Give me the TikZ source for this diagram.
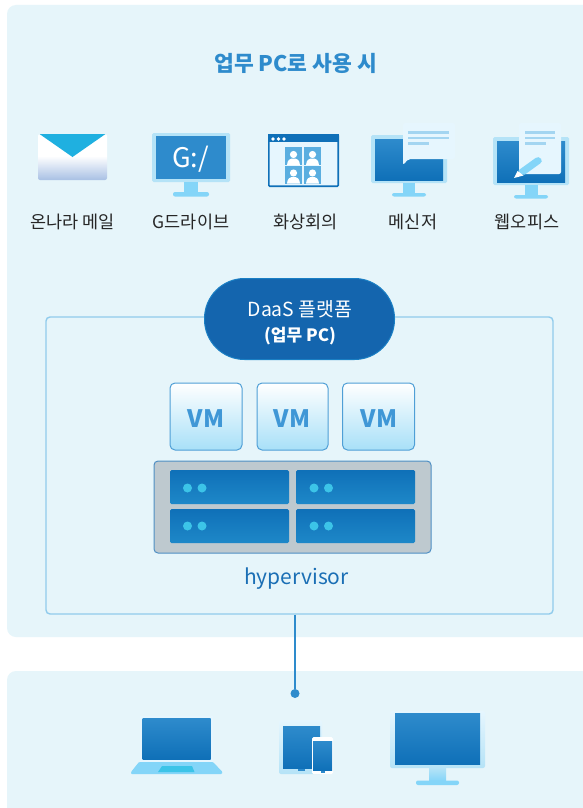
\documentclass[tikz,border=0pt]{standalone}
\usepackage{fontspec}
\setmainfont{Noto Sans CJK KR}
\definecolor{panel}{HTML}{E6F5FA}
\definecolor{lightmon}{HTML}{B5E3F7}
\definecolor{stand}{HTML}{84D5F8}
\definecolor{midblue}{HTML}{2E8BCC}
\definecolor{deepblue}{HTML}{0F70B8}
\definecolor{noteblue}{HTML}{E6F6FE}
\definecolor{noteline}{HTML}{A3D5F1}
\definecolor{ledblue}{HTML}{3CC4E8}
\definecolor{vmlow}{HTML}{A8E0F8}
\definecolor{vmedge}{HTML}{4F9FD6}
\definecolor{vmtext}{HTML}{3F97D6}
\definecolor{slotlow}{HTML}{1E88C8}
\definecolor{picblue}{HTML}{5AAEE0}
\definecolor{mailLow}{HTML}{A8C0E4}
\definecolor{mailTop}{HTML}{1FB0E0}
\definecolor{frameblue}{HTML}{90CBEC}
\definecolor{pillEdge}{HTML}{1A7FC4}
\definecolor{pillFill}{HTML}{1465AE}
\definecolor{hyEdge}{HTML}{4F8FC4}
\definecolor{hyFill}{HTML}{BEC9CF}
\definecolor{hyText}{HTML}{1B6FB5}
\tikzset{
  panelbox/.style={fill=panel,draw=none,rounded corners=9pt},
  screen/.style={top color=midblue,bottom color=deepblue,draw=none},
  bezel/.style={fill=lightmon,draw=none,rounded corners=1.5pt},
  standc/.style={fill=stand,draw=none},
  noteln/.style={fill=noteline,draw=none},
  lbl/.style={font=\fontsize{17.5}{19}\selectfont,text=black!85,inner sep=0pt,anchor=center},
  vmbox/.style={draw=vmedge,line width=1pt,rounded corners=5pt,top color=white,bottom color=vmlow,inner sep=0pt,minimum width=72pt,minimum height=67pt},
  vmtxt/.style={font=\bfseries\fontsize{24}{26}\selectfont,text=vmtext,inner sep=0pt},
  slot/.style={draw=none,rounded corners=1.5pt,top color=deepblue,bottom color=slotlow},
  led/.style={fill=ledblue,draw=none},
}
\newcommand{\personicon}[2]{%
  \fill[picblue] (#1,#2) rectangle ++(17,18);
  \fill[white] (#1+8.5,#2+7.5) circle (3.6);
  \fill[white] (#1+2,#2+18) .. controls (#1+2.5,#2+12.5) and (#1+5,#2+11.5) .. (#1+8.5,#2+11.5) .. controls (#1+12,#2+11.5) and (#1+14.5,#2+12.5) .. (#1+15,#2+18) -- cycle;
}
\begin{document}
\begin{tikzpicture}[x=1pt,y=-1pt]
\useasboundingbox (0,0) rectangle (583,808);
\fill[white] (0,0) rectangle (583,808);
% panels
\begin{scope}
\clip (0,0) rectangle (583,808);
\path[panelbox] (7,5) rectangle (610,637);
\path[panelbox] (7,671) rectangle (610,830);
\end{scope}
\node[font=\bfseries\fontsize{21.5}{23}\selectfont,text=midblue,inner sep=0pt] (title) at (295.5,63) {업무 PC로 사용 시};

% mail
\fill[white,rounded corners=2pt] (38,134) rectangle (107,160);
\shade[top color=white,bottom color=mailLow,rounded corners=2pt] (38,156) rectangle (107,180);
\fill[mailTop] (39.5,134) -- (105.5,134) -- (72.5,157) -- cycle;

% G:/ monitor
\path[bezel] (152,133) rectangle (230,182);
\fill[midblue] (156,136) rectangle (226,179);
\path[standc] (184,182) rectangle (198,192);
\path[standc,rounded corners=2pt] (173,192) rectangle (209,196.5);
\node[text=white,font=\fontsize{27}{29}\selectfont,inner sep=0pt] (gdrive) at (190.5,159) {G:/};

% video window
\path[fill=noteblue,draw=deepblue,line width=1.6pt,rounded corners=1pt] (268.8,134.8) rectangle (338.2,186.2);
\fill[deepblue] (268,134) rectangle (339,142);
\foreach \dx in {273,278.5,284}{\fill[white] (\dx,139) circle (1.8);}
\personicon{285}{147}
\personicon{304}{147}
\personicon{285}{165.5}
\personicon{304}{165.5}

% messenger
\path[bezel] (371,135) rectangle (447,183);
\path[screen] (375,139) rectangle (443,180);
\path[standc] (403,183) rectangle (415,193);
\path[standc,rounded corners=2pt] (392,193) rectangle (426,196.5);
\fill[noteblue,rounded corners=2pt] (403,123) -- (455,123) -- (455,159) -- (408.5,159) -- (403,165) -- cycle;
\path[noteln] (408,131) rectangle (449,133.5);
\path[noteln] (408,136.5) rectangle (449,139);
\path[noteln] (408,142) rectangle (429,144.5);

% web office
\path[bezel] (493,137) rectangle (569,185);
\path[screen] (497,141) rectangle (565,182);
\path[standc] (525,185) rectangle (538,195);
\path[standc,rounded corners=2pt] (514,195) rectangle (548,198.5);
\fill[noteblue,rounded corners=2pt] (519,123) rectangle (561,174);
\path[noteln] (525,131) rectangle (555,133.5);
\path[noteln] (525,136.5) rectangle (555,139);
\path[noteln] (525,142) rectangle (546,144.5);
\fill[stand,rounded corners=1.5pt] (517.5,171) -- (537,157) -- (540,157.5) -- (542,160) -- (541.5,162.5) -- (523.5,175.5) -- cycle;
\fill[white] (514,178) -- (517.5,171) -- (523.5,175.5) -- cycle;

% labels
\node[lbl] (l1) at (72.5,222) {온나라 메일};
\node[lbl] (l2) at (191,222) {G드라이브};
\node[lbl] (l3) at (305.5,222) {화상회의};
\node[lbl] (l4) at (413,222) {메신저};
\node[lbl] (l5) at (527,222) {웹오피스};

% main frame
\node[draw=frameblue,line width=1.4pt,fill=panel,rounded corners=4pt,minimum width=507pt,minimum height=297pt,inner sep=0pt] (frame) at (299.5,465.5) {};
% pill
\node[draw=pillEdge,line width=1pt,fill=pillFill,rounded corners=40pt,minimum width=190pt,minimum height=81pt,inner sep=0pt] (pill) at (299.5,319) {};
\node[text=white,font=\fontsize{19.4}{21}\selectfont,inner sep=0pt] (pt1) at (300,309) {DaaS 플랫폼};
\node[text=white,font=\bfseries\fontsize{17}{19}\selectfont,inner sep=0pt] (pt2) at (300,336) {(업무 PC)};

% VMs
\node[vmbox] (vm1) at (206,416.5) {};
\node[vmbox,minimum width=71pt] (vm2) at (292.5,416.5) {};
\node[vmbox] (vm3) at (378.5,416.5) {};
\node[vmtxt] (vt1) at (206,418.5) {VM};
\node[vmtxt] (vt2) at (292,418.5) {VM};
\node[vmtxt] (vt3) at (379,418.5) {VM};

% hypervisor
\node[draw=hyEdge,line width=1pt,fill=hyFill,rounded corners=4pt,minimum width=277pt,minimum height=92pt,inner sep=0pt] (hyper) at (292.5,507) {};
\path[slot] (170,470) rectangle (289,504);
\path[slot] (296,470) rectangle (415,504);
\path[slot] (170,509) rectangle (289,543);
\path[slot] (296,509) rectangle (415,543);
\foreach \xx in {187.5,202,314,328.5}{\foreach \yy in {488,526}{\path[led] (\xx,\yy) circle (4.5);}}
\node[text=hyText,font=\fontsize{21}{23}\selectfont,inner sep=0pt] (hl) at (296.5,579) {hypervisor};

% connector
\node[circle,fill=midblue,draw=none,minimum size=9pt,inner sep=0pt] (dot) at (295,693.5) {};
\coordinate (ftop) at (295,614.5);
\draw[midblue,line width=1.6pt] (ftop) -- (dot);

% laptop
\fill[noteblue] (140,716) rectangle (213,762);
\path[screen] (142.5,718) rectangle (210.5,759);
\fill[stand,rounded corners=1pt] (139,762) -- (213,762) -- (222.5,772) -- (222,774) -- (131,774) -- (131,772) -- cycle;
\fill[ledblue] (162,766) -- (192,766) -- (194.5,772) -- (158,772) -- cycle;

% tablet
\shade[top color=noteblue,bottom color=lightmon,rounded corners=2pt] (279,720) rectangle (322,774);
\path[screen] (283,726) rectangle (320,768);
\fill[midblue] (297.5,769) rectangle (304.5,771);
\fill[white,rounded corners=1.5pt] (312,737) rectangle (333,774);
\path[screen] (313,741) rectangle (332,770);
\fill[midblue] (320.5,771) rectangle (324.5,772.5);

% monitor
\shade[top color=noteblue,bottom color=lightmon,rounded corners=2pt] (390,711) rectangle (485,768);
\path[screen] (395,713) rectangle (480,764);
\shade[top color=lightmon,bottom color=stand] (429,768) rectangle (446,781);
\path[standc,rounded corners=2pt] (416,780.5) rectangle (459,785);
\end{tikzpicture}
\end{document}
